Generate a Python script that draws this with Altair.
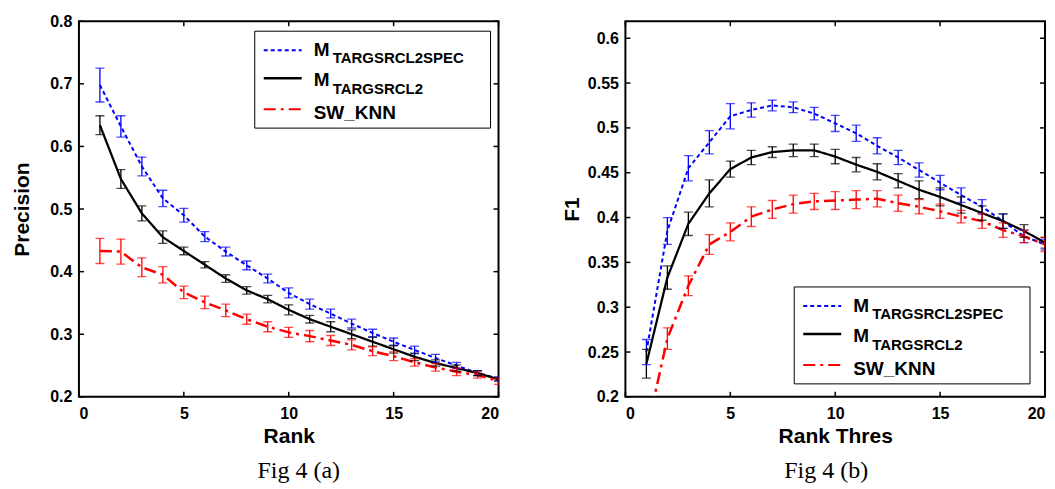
import altair as alt
import pandas as pd

# ---------------- data ----------------
rank = list(range(1, 21))
series_names = ["M_TARGSRCL2SPEC", "M_TARGSRCL2", "SW_KNN"]
series_colors = ["#0000ff", "#000000", "#ff0000"]

# Fig 4 (a): Precision vs Rank
prec_spec = [0.698, 0.632, 0.568, 0.517, 0.490, 0.456, 0.432, 0.410, 0.389, 0.366,
             0.348, 0.333, 0.317, 0.302, 0.288, 0.275, 0.262, 0.250, 0.238, 0.229]
prec_l2 = [0.634, 0.548, 0.493, 0.455, 0.433, 0.411, 0.389, 0.370, 0.356, 0.339,
           0.324, 0.312, 0.300, 0.288, 0.276, 0.264, 0.254, 0.246, 0.238, 0.228]
prec_knn = [0.433, 0.432, 0.407, 0.395, 0.367, 0.351, 0.338, 0.324, 0.312, 0.303,
            0.297, 0.290, 0.283, 0.273, 0.265, 0.255, 0.247, 0.240, 0.235, 0.225]
prec_spec_err = [0.027, 0.017, 0.015, 0.013, 0.011, 0.008, 0.007, 0.007, 0.007, 0.008,
                 0.008, 0.007, 0.007, 0.006, 0.006, 0.006, 0.006, 0.005, 0.004, 0.003]
prec_l2_err = [0.015, 0.015, 0.012, 0.010, 0.006, 0.005, 0.006, 0.006, 0.006, 0.008,
               0.006, 0.008, 0.007, 0.007, 0.006, 0.006, 0.005, 0.005, 0.004, 0.003]
prec_knn_err = [0.020, 0.020, 0.015, 0.013, 0.010, 0.010, 0.010, 0.008, 0.008, 0.008,
                0.009, 0.008, 0.008, 0.007, 0.007, 0.006, 0.006, 0.006, 0.005, 0.005]

# Fig 4 (b): F1 vs Rank Thres
f1_spec = [0.250, 0.385, 0.455, 0.484, 0.513, 0.520, 0.525, 0.523, 0.516, 0.505,
           0.494, 0.480, 0.467, 0.453, 0.439, 0.425, 0.412, 0.396, 0.379, 0.370]
f1_l2 = [0.237, 0.333, 0.393, 0.427, 0.454, 0.467, 0.473, 0.475, 0.475, 0.468,
         0.459, 0.451, 0.441, 0.431, 0.423, 0.414, 0.405, 0.396, 0.385, 0.372]
f1_knn = [0.160, 0.265, 0.324, 0.370, 0.384, 0.401, 0.409, 0.415, 0.418, 0.419,
          0.420, 0.421, 0.416, 0.412, 0.407, 0.401, 0.396, 0.386, 0.379, 0.370]
f1_spec_err = [0.014, 0.015, 0.014, 0.013, 0.014, 0.008, 0.006, 0.006, 0.007, 0.009,
               0.009, 0.009, 0.008, 0.008, 0.008, 0.008, 0.008, 0.008, 0.007, 0.006]
f1_l2_err = [0.016, 0.013, 0.013, 0.015, 0.009, 0.008, 0.006, 0.007, 0.007, 0.008,
             0.008, 0.009, 0.008, 0.010, 0.010, 0.009, 0.008, 0.008, 0.007, 0.006]
f1_knn_err = [0.010, 0.012, 0.011, 0.011, 0.010, 0.011, 0.010, 0.010, 0.009, 0.010,
              0.010, 0.009, 0.009, 0.008, 0.008, 0.007, 0.008, 0.008, 0.007, 0.008]

x_ticks = [0, 5, 10, 15, 20]
prec_ticks = [0.2, 0.3, 0.4, 0.5, 0.6, 0.7, 0.8]
f1_ticks = [0.2, 0.25, 0.3, 0.35, 0.4, 0.45, 0.5, 0.55, 0.6]

# ---------------- styling ----------------
W, H = 420, 376
SANS = "Liberation Sans"
DASHES = [[4, 3], [1, 0], [12, 5, 3, 5]]
WIDTHS = [2, 2.5, 2]


def long_df(vals, errs):
    rows = []
    for name, v, e in zip(series_names, vals, errs):
        for x, y, d in zip(rank, v, e):
            rows.append({"series": name, "x": x, "y": y, "lo": y - d, "hi": y + d})
    return pd.DataFrame(rows)


def legend_layers(lx, ly):
    one = alt.Data(values=[{"a": 1}])
    layers = [
        alt.Chart(one).mark_rect(fill="white", stroke="black", strokeWidth=1).encode(
            x=alt.value(lx), x2=alt.value(lx + 236), y=alt.value(ly), y2=alt.value(ly + 97))
    ]
    row_y = [19, 47, 78]
    for i in range(3):
        layers.append(
            alt.Chart(one).mark_rule(color=series_colors[i], strokeDash=DASHES[i],
                                     strokeWidth=WIDTHS[i]).encode(
                x=alt.value(lx + 9), x2=alt.value(lx + 47), y=alt.value(ly + row_y[i])))
    txt = dict(font=SANS, fontWeight="bold", align="left", baseline="alphabetic", color="black")
    layers += [
        alt.Chart(one).mark_text(text="M", fontSize=19, **txt).encode(
            x=alt.value(lx + 59), y=alt.value(ly + 25)),
        alt.Chart(one).mark_text(text="TARGSRCL2SPEC", fontSize=15, **txt).encode(
            x=alt.value(lx + 78), y=alt.value(ly + 32)),
        alt.Chart(one).mark_text(text="M", fontSize=19, **txt).encode(
            x=alt.value(lx + 59), y=alt.value(ly + 55)),
        alt.Chart(one).mark_text(text="TARGSRCL2", fontSize=15, **txt).encode(
            x=alt.value(lx + 78), y=alt.value(ly + 63)),
        alt.Chart(one).mark_text(text="SW_KNN", fontSize=19, **txt).encode(
            x=alt.value(lx + 59), y=alt.value(ly + 88)),
    ]
    return layers


def panel(df, ydomain, yticks, yfmt, xtitle, ytitle, ytitle_x, leg_xy, caption, cap_x):
    xs = alt.Scale(domain=[0, 20], nice=False, zero=False)
    ys = alt.Scale(domain=ydomain, nice=False, zero=False)
    lab = dict(labelFont=SANS, labelFontWeight="bold", labelFontSize=16, labelColor="black",
               titleFont=SANS, titleFontWeight="bold", titleFontSize=21, titleColor="black")
    xaxis = alt.Axis(values=x_ticks, title=xtitle, format="d", domain=False, ticks=False,
                     labelPadding=9, titleY=46, titleBaseline="alphabetic", grid=False, **lab)
    yaxis = alt.Axis(values=yticks, title=ytitle, format=yfmt, domain=False, ticks=False,
                     labelPadding=7, titleX=ytitle_x, titleY=H / 2, titleAngle=270,
                     titleAlign="center", titleBaseline="alphabetic", grid=False, **lab)

    def X(f):
        return alt.X(f, scale=xs, axis=xaxis)

    def Y(f):
        return alt.Y(f, scale=ys, axis=yaxis)

    color = alt.Color("series:N", scale=alt.Scale(domain=series_names, range=series_colors), legend=None)
    dash = alt.StrokeDash("series:N", scale=alt.Scale(domain=series_names, range=DASHES), legend=None)
    sw = alt.StrokeWidth("series:N", scale=alt.Scale(domain=series_names, range=WIDTHS), legend=None)

    base = alt.Chart(df)
    lines = base.mark_line(clip=True).encode(x=X("x:Q"), y=Y("y:Q"), color=color,
                                             strokeDash=dash, strokeWidth=sw)
    bars = base.mark_rule(clip=True, strokeWidth=1.3).encode(
        x=X("x:Q"), y=Y("lo:Q"), y2="hi:Q", color=color)
    cap_lo = base.mark_tick(clip=True, orient="horizontal", size=9, thickness=1.3).encode(
        x=X("x:Q"), y=Y("lo:Q"), color=color)
    cap_hi = base.mark_tick(clip=True, orient="horizontal", size=9, thickness=1.3).encode(
        x=X("x:Q"), y=Y("hi:Q"), color=color)

    xt = alt.Chart(pd.DataFrame({"v": x_ticks}))
    yt = alt.Chart(pd.DataFrame({"v": yticks}))
    tick_style = dict(color="black", strokeWidth=1.5)
    t_bottom = xt.mark_rule(**tick_style).encode(x=X("v:Q"), y=alt.value(H), y2=alt.value(H - 5))
    t_top = xt.mark_rule(**tick_style).encode(x=X("v:Q"), y=alt.value(0), y2=alt.value(5))
    t_left = yt.mark_rule(**tick_style).encode(y=Y("v:Q"), x=alt.value(0), x2=alt.value(5))
    t_right = yt.mark_rule(**tick_style).encode(y=Y("v:Q"), x=alt.value(W), x2=alt.value(W - 5))

    cap = alt.Chart(alt.Data(values=[{"a": 1}])).mark_text(
        text=caption, font="Liberation Serif", fontSize=24, align="center",
        baseline="alphabetic", color="black").encode(x=alt.value(cap_x), y=alt.value(H + 81))

    layers = [lines, bars, cap_lo, cap_hi, t_bottom, t_top, t_left, t_right]
    layers += legend_layers(*leg_xy)
    layers.append(cap)
    return alt.layer(*layers).properties(width=W, height=H)


left = panel(long_df([prec_spec, prec_l2, prec_knn], [prec_spec_err, prec_l2_err, prec_knn_err]),
             [0.2, 0.8], prec_ticks, ".1f", "Rank", "Precision", -50, (176, 10), "Fig 4 (a)", W / 2 + 10)
right = panel(long_df([f1_spec, f1_l2, f1_knn], [f1_spec_err, f1_l2_err, f1_knn_err]),
              [0.2, 0.619], f1_ticks, ".2~f", "Rank Thres", "F1", -47, (169, 266), "Fig 4 (b)", 201)

chart = alt.hconcat(left, right, spacing=127, bounds="flush").properties(
    padding={"left": 3, "top": 4, "right": 0, "bottom": 0},
    background="white",
).configure_view(
    stroke="black", strokeWidth=2
)

chart.save("out.html", embed_options={"renderer": "svg", "actions": False})
